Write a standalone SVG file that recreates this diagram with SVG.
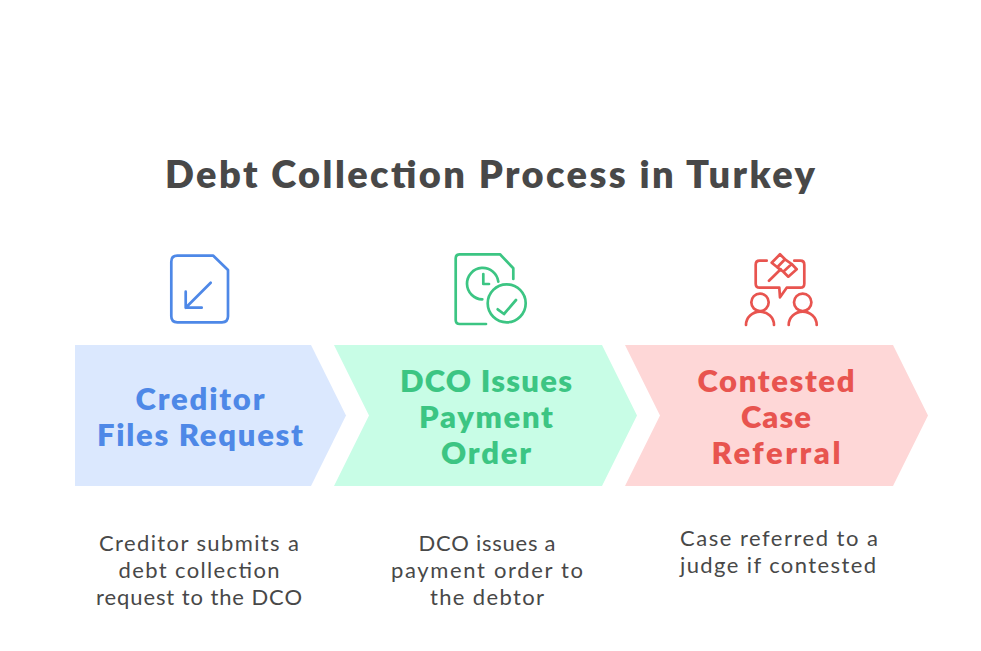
<svg xmlns="http://www.w3.org/2000/svg" width="981" height="651" viewBox="0 0 981 651">
<style>
text{font-family:"Lato","Open Sans","Liberation Sans",sans-serif;text-anchor:middle}
.t{font-size:38px;font-weight:800;fill:#484848}
.h{font-size:31px;font-weight:800}
.b{font-size:22px;fill:#484848}
.i{fill:none;stroke-width:2.7;stroke-linecap:round;stroke-linejoin:round}
.blue{fill:#4e88e7}.green{fill:#3cc583}.red{fill:#e8544f}
</style>
<rect width="981" height="651" fill="#fff"/>
<text id="title" class="t" x="490" y="188" textLength="650" lengthAdjust="spacing">Debt Collection Process in Turkey</text>
<g id="node-creditor">
<path d="M75 345H311L346 415.5L311 486H75Z" fill="#dbe8fe"/>
<path class="i" stroke="#4e88e7" d="M177.3 255.7H213.3L228 270V316.3Q228 322.3 222 322.3H177.3Q171.3 322.3 171.3 316.3V261.7Q171.3 255.7 177.3 255.7ZM210.7 282.7L185.7 307.7M185.7 291.7V307.7H201.7"/>
<text class="h blue" x="200" y="410" textLength="129" lengthAdjust="spacing">Creditor</text>
<text class="h blue" x="200" y="446" textLength="206" lengthAdjust="spacing">Files Request</text>
<text class="b" x="199" y="551" textLength="200" lengthAdjust="spacing">Creditor submits a</text>
<text class="b" x="199" y="578" textLength="161" lengthAdjust="spacing">debt collection</text>
<text class="b" x="199" y="605" textLength="206" lengthAdjust="spacing">request to the DCO</text>
</g>
<g id="node-dco">
<path d="M334 345H602L637 415.5L602 486H334L369 415.5Z" fill="#c8fde6"/>
<path class="i" stroke="#3cc583" d="M513.3 279V268.3L500 254.3H459.7Q455.7 254.3 455.7 258.3V320Q455.7 324 459.7 324H486M498.3 281.7A15.7 15.7 0 1 0 482.3 299.3M483.3 274V284H489"/>
<circle class="i" stroke="#3cc583" cx="506.7" cy="303.3" r="19"/>
<path class="i" stroke="#3cc583" d="M497.7 309.3L504 314L516 300"/>
<text class="h green" x="486" y="392" textLength="172" lengthAdjust="spacing">DCO Issues</text>
<text class="h green" x="486" y="428" textLength="134" lengthAdjust="spacing">Payment</text>
<text class="h green" x="486" y="464" textLength="90" lengthAdjust="spacing">Order</text>
<text class="b" x="487" y="551" textLength="137" lengthAdjust="spacing">DCO issues a</text>
<text class="b" x="487" y="578" textLength="192" lengthAdjust="spacing">payment order to</text>
<text class="b" x="487" y="605" textLength="114" lengthAdjust="spacing">the debtor</text>
</g>
<g id="node-referral">
<path d="M625 345H893L928 415.5L893 486H625L660 415.5Z" fill="#fed7d7"/>
<g class="i" stroke="#e8544f">
<path d="M766.7 260.7H759.7Q755.7 260.7 755.7 264.7V283.7Q755.7 287.7 759.7 287.7H779.3L780 297.3L786.7 287.7H800.3Q804.3 287.7 804.3 283.7V264.7Q804.3 260.7 800.3 260.7H794.3"/>
<path d="M771.7 262.7L780 254.3L785 259.3L777.3 267.3ZM783.3 271.7L791.7 264L796.7 269.3L788.3 276.7ZM777.3 267.3L783.3 271.7M785 259.3L791.7 264M769 280.7L780.7 269.3"/>
<circle cx="760" cy="302.3" r="8.7"/><circle cx="802.7" cy="302.3" r="8.7"/>
<path d="M746 325A14 13.3 0 0 1 774 325M788.7 325A14 13.3 0 0 1 816.7 325"/>
</g>
<text class="h red" x="776" y="392" textLength="157" lengthAdjust="spacing">Contested</text>
<text class="h red" x="776" y="428" textLength="70" lengthAdjust="spacing">Case</text>
<text class="h red" x="776" y="464" textLength="129" lengthAdjust="spacing">Referral</text>
<text class="b" x="779" y="546" textLength="198" lengthAdjust="spacing">Case referred to a</text>
<text class="b" x="778" y="573" textLength="196" lengthAdjust="spacing">judge if contested</text>
</g>
</svg>
